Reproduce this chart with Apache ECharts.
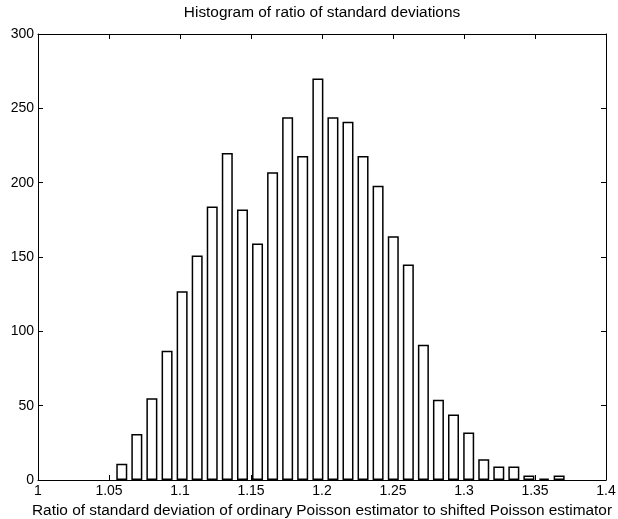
<!DOCTYPE html>
<html>
<head>
<meta charset="utf-8">
<script src="https://cdn.jsdelivr.net/npm/echarts@6/dist/echarts.min.js"></script>
<style>
  html, body { margin: 0; padding: 0; background: #fff; }
  #main { width: 618px; height: 519px; }
</style>
</head>
<body>
<div id="main"></div>
<script>
// bin centres of the histogram (ratio values)
const binCenters = [
  1.0590, 1.0696, 1.0802, 1.0909, 1.1015, 1.1121, 1.1227, 1.1333, 1.1440, 1.1546,
  1.1652, 1.1758, 1.1864, 1.1971, 1.2077, 1.2183, 1.2289, 1.2395, 1.2502, 1.2608,
  1.2714, 1.2820, 1.2926, 1.3033, 1.3139, 1.3245, 1.3351, 1.3457, 1.3564, 1.3670,
];
// counts in each bin
const counts = [
  11, 31, 55, 87, 127, 151, 184, 220, 182, 159,
  207, 244, 218, 270, 244, 241, 218, 198, 164, 145,
  91, 54, 44, 32, 14, 9, 9, 3, 1, 3,
];

const FONT = 'Liberation Sans';

const chart = echarts.init(document.getElementById('main'), null, { renderer: 'canvas' });

const axisLine = { show: true, onZero: false, lineStyle: { color: '#000', width: 1 } };
const tickIn = { show: true, inside: true, length: 5, lineStyle: { color: '#000', width: 1 } };
const tickLabel = { color: '#000', fontSize: 14, fontFamily: FONT };
const bigText = { color: '#000', fontSize: 15.4, fontWeight: 'normal', fontFamily: FONT };

const option = {
  backgroundColor: '#fff',
  animation: false,
  title: {
    text: 'Histogram of ratio of standard deviations',
    left: 322,
    textAlign: 'center',
    top: 5,
    padding: 0,
    textStyle: bigText,
  },
  grid: {
    left: 38,
    right: 12,
    top: 34,
    bottom: 39,
    show: false,
    containLabel: false,
    outerBoundsMode: 'none',
  },
  xAxis: [{
    type: 'value',
    position: 'bottom',
    min: 1,
    max: 1.4,
    interval: 0.05,
    axisLine,
    axisTick: tickIn,
    axisLabel: { ...tickLabel, margin: 4 },
    splitLine: { show: false },
    name: 'Ratio of standard deviation of ordinary Poisson estimator to shifted Poisson estimator',
    nameLocation: 'middle',
    nameGap: 15,
    nameTextStyle: bigText,
  }, {
    type: 'value',
    position: 'top',
    min: 1,
    max: 1.4,
    interval: 0.05,
    axisLine,
    axisTick: tickIn,
    axisLabel: { show: false },
    splitLine: { show: false },
  }],
  yAxis: [{
    type: 'value',
    position: 'left',
    min: 0,
    max: 300,
    interval: 50,
    axisLine,
    axisTick: tickIn,
    axisLabel: { ...tickLabel, margin: 4 },
    splitLine: { show: false },
  }, {
    type: 'value',
    position: 'right',
    min: 0,
    max: 300,
    interval: 50,
    axisLine,
    axisTick: tickIn,
    axisLabel: { show: false },
    splitLine: { show: false },
  }],
  series: [{
    type: 'bar',
    xAxisIndex: 0,
    yAxisIndex: 0,
    barWidth: 11,
    data: binCenters.map((x, i) => [x, counts[i]]),
    itemStyle: { color: '#fff', borderColor: '#000', borderWidth: 1.5 },
  }],
};

chart.setOption(option);
</script>
</body>
</html>
